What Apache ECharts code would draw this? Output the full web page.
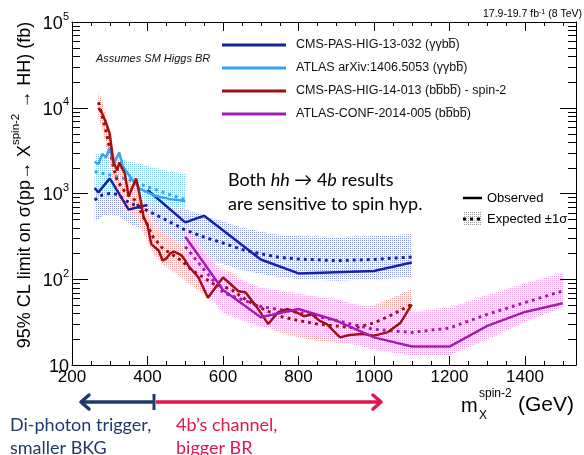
<!DOCTYPE html>
<html>
<head>
<meta charset="utf-8">
<script src="https://cdn.jsdelivr.net/npm/echarts@6.0.0/dist/echarts.min.js"></script>
<style>
html, body { margin: 0; padding: 0; background: #fff; }
#chart { width: 584px; height: 455px; }
</style>
</head>
<body>
<div id="chart"></div>
<script>
// CMS-PAS-HIG-13-032 (yybb), low and high mass analyses
const xCmsGGLow = [260, 270, 300, 350, 400];
const obsCmsGGLow = [1160, 1030, 1500, 650, 735];
const xCmsGGHigh = [400, 500, 550, 700, 800, 900, 1000, 1100];
const obsCmsGGHigh = [1100, 460, 550, 170, 117, 121, 125, 157];
const xCmsGGExp = [260, 280, 300, 320, 350, 400, 450, 500, 550, 600, 650, 700, 750, 800, 900, 1000, 1100];
const expCmsGG = [840, 960, 1000, 980, 790, 630, 490, 375, 310, 265, 222, 198, 180, 172, 165, 170, 182];
const upCmsGG = [1500, 1650, 1750, 1700, 1400, 1100, 860, 660, 550, 470, 400, 360, 330, 320, 310, 320, 336];
const loCmsGG = [470, 540, 570, 560, 450, 360, 280, 215, 180, 150, 128, 115, 106, 101, 96, 100, 105];

// ATLAS arXiv:1406.5053 (yybb)
const xAtlasGG = [260, 270, 280, 290, 300, 310, 325, 335, 355, 380, 420, 460, 500];
const obsAtlasGG = [2350, 2200, 2900, 2650, 3450, 2200, 3000, 2050, 1550, 1130, 940, 860, 820];
const xAtlasGGExp = [260, 300, 350, 400, 450, 500];
const expAtlasGG = [1800, 1650, 1450, 1200, 1000, 850];
const upAtlasGG = [2900, 2700, 2400, 2100, 1850, 1700];
const loAtlasGG = [1100, 1000, 880, 780, 720, 680];

// CMS-PAS-HIG-14-013 (bbbb) spin-2
const xCms4b = [270, 280, 290, 300, 305, 310, 320, 325, 340, 350, 360, 370, 380, 390, 400, 410, 430, 440, 450, 460, 470, 480, 490, 500, 510, 535, 560, 580, 600, 620, 640, 660, 690, 720, 745, 770, 795, 815, 835, 855, 875, 910, 935, 970, 1000, 1035, 1070, 1100];
const obsCms4b = [10000, 8600, 6700, 5000, 3300, 2300, 1850, 2300, 1700, 920, 1180, 1500, 920, 525, 430, 257, 215, 165, 175, 200, 210, 200, 190, 165, 140, 105, 61, 80, 105, 88, 73, 70, 47, 30, 41, 45, 41, 37, 39, 33, 30, 21, 22.4, 23, 22, 24, 31, 51];
const xCms4bExp = [270, 280, 290, 300, 310, 320, 345, 370, 385, 400, 415, 440, 490, 515, 575, 620, 665, 715, 750, 800, 850, 950, 1000, 1050, 1100];
const expCms4b = [11600, 8100, 5300, 3300, 2000, 1400, 980, 820, 575, 430, 310, 230, 165, 130, 88, 77, 56, 43, 37, 33, 30, 27, 31, 39, 51];
const upCms4b = [16000, 12000, 8000, 5000, 3200, 2200, 1500, 1250, 900, 680, 490, 360, 260, 205, 140, 122, 90, 70, 60, 54, 49, 45, 50, 62, 77];
const loCms4b = [8000, 5500, 3500, 2200, 1300, 900, 620, 530, 370, 280, 200, 150, 105, 85, 57, 50, 36, 28, 24, 21, 19, 17.5, 20, 24, 29];

// ATLAS-CONF-2014-005 (bbbb)
const xAtlas4b = [500, 600, 700, 800, 900, 1000, 1100, 1200, 1300, 1400, 1500];
const obsAtlas4b = [313, 75, 36, 45, 33, 21, 16.4, 16.4, 28.6, 41.6, 52.5];
const expAtlas4b = [240, 70, 48, 41, 33, 26, 24, 27, 39, 53.5, 73];
const upAtlas4b = [400, 120, 80, 68, 58, 46, 42, 47, 66, 90, 120];
const loAtlas4b = [140, 40, 28, 24, 20, 15, 13, 13, 20, 32, 47];

const names = [
  'CMS-PAS-HIG-13-032 (\u03b3\u03b3bb\u0305)',
  'ATLAS arXiv:1406.5053 (\u03b3\u03b3bb\u0305)',
  'CMS-PAS-HIG-14-013 (bb\u0305bb\u0305) - spin-2',
  'ATLAS-CONF-2014-005 (bb\u0305bb\u0305)'
];
const xTicks = [200, 400, 600, 800, 1000, 1200, 1400];

const FONT = '"Liberation Sans", Arial, sans-serif';
const CM = 'Lato, "Open Sans", sans-serif';
const X_MIN = 200, X_MAX = 1535;

const pairs = (xs, ys) => xs.map((x, i) => [x, ys[i]]);

let minorX = [];
for (let v = 250; v < X_MAX; v += 50) if (v % 200 !== 0) minorX.push(v);
let minorY = [];
for (let e = 1; e < 5; e++) for (let k = 2; k <= 9; k++) minorY.push(k * Math.pow(10, e));

// sparse dot pattern, like the ROOT hatch style of the original
function dots(color) {
  const c = document.createElement('canvas');
  c.width = 2; c.height = 2;
  const ctx = c.getContext('2d');
  ctx.fillStyle = color;
  ctx.fillRect(0, 0, 1, 1);
  return { image: c, repeat: 'repeat' };
}

function band(xs, lo, hi, color) {
  const fill = dots(color);
  return {
    type: 'custom', silent: true, clip: true, z: 1,
    data: xs.map((x, i) => [x, lo[i], hi[i]]),
    renderItem: (params, api) => {
      if (params.dataIndex !== 0) return null;
      const pts = [];
      for (let i = 0; i < xs.length; i++) pts.push(api.coord([xs[i], hi[i]]));
      for (let i = xs.length - 1; i >= 0; i--) pts.push(api.coord([xs[i], lo[i]]));
      return { type: 'polygon', shape: { points: pts }, style: { fill: fill } };
    }
  };
}

function obsLine(name, data, color) {
  return {
    name: name, type: 'line', data: data, symbol: 'none', z: 4,
    lineStyle: { color: color, width: 2.5 }, itemStyle: { color: color }
  };
}
function expLine(data, color) {
  return {
    type: 'line', data: data, symbol: 'none', z: 3,
    lineStyle: { color: color, width: 3, type: [3, 4] }
  };
}

const colCmsGG = '#1622a0', colAtlasGG = '#3aa2f2', colCms4b = '#a01010', colAtlas4b = '#a21cb4';

let myChart = echarts.init(document.getElementById('chart'));
let option;

option = {
  animation: false,
  grid: { left: 72, right: 8, top: 22, bottom: 90 },
  legend: {
    data: names,
    orient: 'vertical',
    left: 222, top: 37.5,
    icon: 'rect',
    itemWidth: 64, itemHeight: 3, itemGap: 8,
    padding: 0,
    selectedMode: false,
    textStyle: { fontFamily: FONT, fontSize: 12.5, lineHeight: 15, color: '#111', padding: [0, 0, 0, 5] }
  },
  xAxis: [{
    type: 'value', min: X_MIN, max: X_MAX, interval: 200,
    axisLine: { lineStyle: { color: '#000', width: 1 } },
    axisTick: { inside: true, length: 9, lineStyle: { color: '#000' } },
    axisLabel: { fontFamily: FONT, fontSize: 17, color: '#000', margin: 4, showMaxLabel: false,
      formatter: v => xTicks.indexOf(v) >= 0 ? String(v) : '' },
    splitLine: { show: false }
  }, {
    type: 'value', min: X_MIN, max: X_MAX, interval: 200, position: 'top',
    axisLine: { lineStyle: { color: '#000', width: 1 } },
    axisTick: { inside: true, length: 9, lineStyle: { color: '#000' } },
    axisLabel: { show: false }, splitLine: { show: false }
  }],
  yAxis: [{
    type: 'log', min: 10, max: 100000, logBase: 10, splitNumber: 4,
    axisLine: { show: true, lineStyle: { color: '#000', width: 1 } },
    axisTick: { show: true, inside: true, length: 16, lineStyle: { color: '#000' } },
    axisLabel: {
      margin: 3, color: '#000',
      formatter: v => {
        const e = Math.round(Math.log10(v));
        return e === 1 ? '{b|10}' : '{b|10}{s|' + e + '}';
      },
      rich: {
        b: { fontFamily: FONT, fontSize: 18, lineHeight: 22, verticalAlign: 'bottom', color: '#000' },
        s: { fontFamily: FONT, fontSize: 11, lineHeight: 11, verticalAlign: 'top', color: '#000' }
      }
    },
    splitLine: { show: false }
  }, {
    type: 'log', min: 10, max: 100000, logBase: 10, splitNumber: 4, position: 'right',
    axisLine: { show: true, lineStyle: { color: '#000', width: 1 } },
    axisTick: { show: true, inside: true, length: 16, lineStyle: { color: '#000' } },
    axisLabel: { show: false }, splitLine: { show: false }
  }],
  series: [
    band(xCmsGGExp, loCmsGG, upCmsGG, '#8e9af0'),
    band(xAtlasGGExp, loAtlasGG, upAtlasGG, '#7cc4f6'),
    band(xCms4bExp, loCms4b, upCms4b, '#f39c9c'),
    band(xAtlas4b, loAtlas4b, upAtlas4b, '#f29ae2'),
    expLine(pairs(xCmsGGExp, expCmsGG), colCmsGG),
    expLine(pairs(xAtlasGGExp, expAtlasGG), colAtlasGG),
    expLine(pairs(xCms4bExp, expCms4b), colCms4b),
    expLine(pairs(xAtlas4b, expAtlas4b), colAtlas4b),
    obsLine(names[0], pairs(xCmsGGLow, obsCmsGGLow), colCmsGG),
    obsLine(names[0], pairs(xCmsGGHigh, obsCmsGGHigh), colCmsGG),
    obsLine(names[1], pairs(xAtlasGG, obsAtlasGG), colAtlasGG),
    obsLine(names[2], pairs(xCms4b, obsCms4b), colCms4b),
    obsLine(names[3], pairs(xAtlas4b, obsAtlas4b), colAtlas4b),
    {
      // minor ticks on the log axis, left and right
      type: 'custom', silent: true, z: 5, clip: false,
      data: minorY.map(v => [X_MIN, v]),
      renderItem: (params, api) => {
        const cs = params.coordSys;
        const y = Math.round(api.coord([X_MIN, api.value(1)])[1]) + 0.5;
        const st = { stroke: '#000', lineWidth: 1 };
        return { type: 'group', children: [
          { type: 'line', shape: { x1: cs.x, y1: y, x2: cs.x + 8, y2: y }, style: st },
          { type: 'line', shape: { x1: cs.x + cs.width - 8, y1: y, x2: cs.x + cs.width, y2: y }, style: st }
        ] };
      }
    },
    {
      // minor ticks on the mass axis, bottom and top
      type: 'custom', silent: true, z: 5, clip: false,
      data: minorX.map(v => [v, 10]),
      renderItem: (params, api) => {
        const cs = params.coordSys;
        const x = Math.round(api.coord([api.value(0), 10])[0]) + 0.5;
        const st = { stroke: '#000', lineWidth: 1 };
        return { type: 'group', children: [
          { type: 'line', shape: { x1: x, y1: cs.y + cs.height, x2: x, y2: cs.y + cs.height - 4 }, style: st },
          { type: 'line', shape: { x1: x, y1: cs.y, x2: x, y2: cs.y + 4 }, style: st }
        ] };
      }
    }
  ],
  graphic: [
    { type: 'text', x: 582, y: 14, style: { text: '17.9-19.7 fb{s|-1} (8 TeV)', align: 'right', verticalAlign: 'middle',
      font: '10.5px ' + FONT, fill: '#000',
      rich: { s: { fontSize: 7, verticalAlign: 'top', lineHeight: 8, fontFamily: FONT } } } },
    { type: 'text', x: 96, y: 59, style: { text: 'Assumes SM Higgs BR', verticalAlign: 'middle',
      font: 'italic 11px ' + FONT, fill: '#111' } },
    {
      type: 'text', x: 22, y: 185, rotation: Math.PI / 2,
      style: {
        text: '{t|95% CL limit on \u03c3(pp\u2192 X}{s|spin-2}{t| \u2192 HH) (fb)}',
        align: 'center', verticalAlign: 'middle',
        rich: {
          t: { fontFamily: FONT, fontSize: 18, lineHeight: 24, verticalAlign: 'bottom', color: '#000' },
          s: { fontFamily: FONT, fontSize: 11.5, lineHeight: 12, verticalAlign: 'top', color: '#000' }
        }
      }
    },
    // x axis title
    { type: 'text', x: 461, y: 406, style: { text: 'm', verticalAlign: 'middle', font: '20px ' + FONT, fill: '#000' } },
    { type: 'text', x: 479, y: 394, style: { text: 'spin-2', verticalAlign: 'middle', font: '12px ' + FONT, fill: '#000' } },
    { type: 'text', x: 479, y: 416, style: { text: 'X', verticalAlign: 'middle', font: '12px ' + FONT, fill: '#000' } },
    { type: 'text', x: 518, y: 405, style: { text: '(GeV)', verticalAlign: 'middle', font: '21px ' + FONT, fill: '#000' } },
    // observed / expected key
    { type: 'line', shape: { x1: 463, y1: 198, x2: 482, y2: 198 }, style: { stroke: '#000', lineWidth: 2.5 } },
    { type: 'text', x: 487, y: 198, style: { text: 'Observed', verticalAlign: 'middle', font: '13px ' + FONT, fill: '#000' } },
    { type: 'rect', shape: { x: 463, y: 212, width: 19, height: 14 }, style: { fill: dots('#9a9a9a') } },
    { type: 'line', shape: { x1: 463, y1: 219, x2: 482, y2: 219 }, style: { stroke: '#000', lineWidth: 3, lineDash: [3, 4] } },
    { type: 'text', x: 487, y: 219, style: { text: 'Expected \u00b11\u03c3', verticalAlign: 'middle', font: '13px ' + FONT, fill: '#000' } },
    // annotation
    {
      type: 'text', x: 228, y: 168,
      style: {
        text: 'Both {i|hh} \u2192 4{i|b} results\nare sensitive to spin hyp.',
        font: '18px ' + CM, fill: '#000', lineHeight: 24,
        rich: { i: { fontStyle: 'italic', fontFamily: CM, fontSize: 18, lineHeight: 24 } }
      }
    },
    // arrows under the axis
    { type: 'polyline', shape: { points: [[154, 402], [82, 402]] }, style: { stroke: '#1f3a6c', lineWidth: 3.5 } },
    { type: 'polyline', shape: { points: [[89, 395], [81, 402], [89, 409]] }, style: { stroke: '#1f3a6c', lineWidth: 3.5, fill: null, lineCap: 'round', lineJoin: 'round' } },
    { type: 'line', shape: { x1: 154, y1: 394, x2: 154, y2: 410 }, style: { stroke: '#1f3a6c', lineWidth: 3 } },
    { type: 'polyline', shape: { points: [[156, 402], [380, 402]] }, style: { stroke: '#e1174c', lineWidth: 3.5 } },
    { type: 'polyline', shape: { points: [[373, 395], [381, 402], [373, 409]] }, style: { stroke: '#e1174c', lineWidth: 3.5, fill: null, lineCap: 'round', lineJoin: 'round' } },
    { type: 'text', x: 10, y: 425, style: { text: 'Di-photon trigger,', verticalAlign: 'middle', font: '18px ' + CM, fill: '#1f3a6c' } },
    { type: 'text', x: 10, y: 448, style: { text: 'smaller BKG', verticalAlign: 'middle', font: '18px ' + CM, fill: '#1f3a6c' } },
    { type: 'text', x: 176, y: 425, style: { text: '4b\u2019s channel,', verticalAlign: 'middle', font: '18px ' + CM, fill: '#e1174c' } },
    { type: 'text', x: 176, y: 448, style: { text: 'bigger BR', verticalAlign: 'middle', font: '18px ' + CM, fill: '#e1174c' } }
  ]
};

option && myChart.setOption(option);
</script>
</body>
</html>
